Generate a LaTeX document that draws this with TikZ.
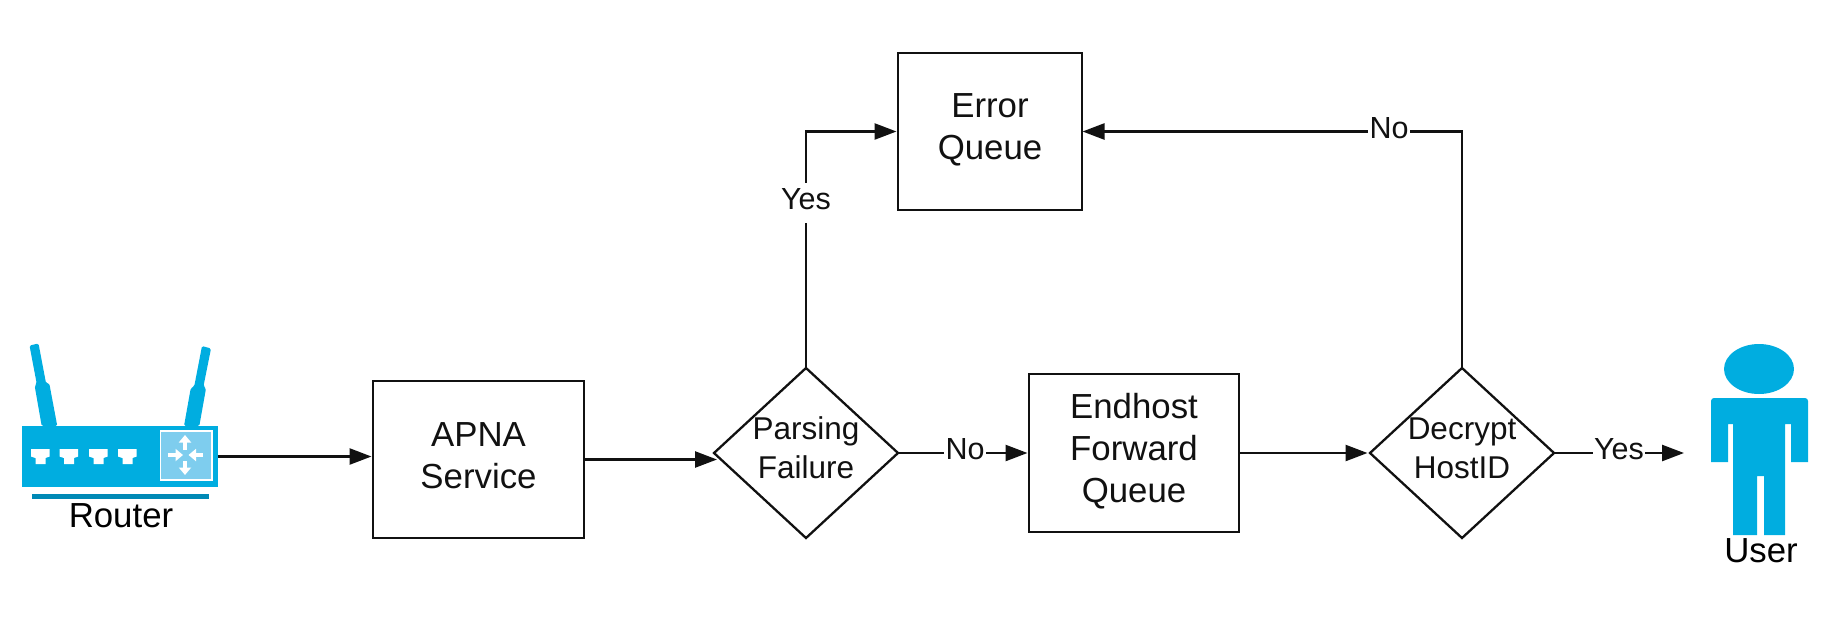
\documentclass[tikz,border=0pt]{standalone}
\usepackage{fontspec}
\setmainfont{Liberation Sans}
\usetikzlibrary{arrows.meta,shapes.geometric}
\definecolor{ink}{HTML}{111111}
\definecolor{iconblue}{HTML}{00ADE0}
\definecolor{iconpale}{HTML}{7ECDEE}
\definecolor{icondark}{HTML}{0089B5}
\newcommand{\tl}[2]{\raisebox{#1}[0pt][0pt]{\begin{tabular}[t]{@{}c@{}}#2\end{tabular}}}
\tikzset{
  wire/.style={draw=ink,line width=2.5pt},
  flow/.style={wire,-{Triangle[length=22pt,width=16pt]}},
  procbox/.style={draw=ink,line width=2.6pt,rectangle,inner sep=0pt,outer sep=0pt,font=\fontsize{34.8}{42}\selectfont,text=ink},
  decide/.style={draw=ink,line width=2.3pt,diamond,aspect=1,inner sep=0pt,outer sep=0pt,minimum width=184pt,minimum height=170pt,font=\fontsize{31.5}{39}\selectfont,text=ink},
  lbl/.style={fill=white,inner xsep=1.5pt,inner ysep=0pt,text=ink,font=\fontsize{30.5}{34}\selectfont,minimum height=40pt,text height=21pt,text depth=8pt},
  iconcap/.style={inner sep=0pt,text=black,font=\fontsize{34.8}{42}\selectfont,anchor=base},
  iconbody/.style={fill=iconblue,draw=none},
  screenarrow/.style={white,line width=3.6pt,-{Triangle[length=7.5pt,width=12pt]}}
}
\begin{document}
\begin{tikzpicture}[x=1pt,y=-1pt]
\useasboundingbox (0,0) rectangle (1830,643);
% router icon
\fill[iconbody,rounded corners=1.5pt] (29.5,345.5) -- (38.5,343.5) -- (46,383) -- (49.3,383.5) -- (57.3,426) -- (41.7,426) -- (34.7,386) -- (36.7,383.5) -- cycle;
\fill[iconbody,rounded corners=1.5pt] (202,346) -- (211,348.5) -- (203.5,386) -- (206,388.5) -- (199.3,426) -- (184,426) -- (190.7,388.5) -- (194.3,386) -- cycle;
\node[iconbody,rectangle,inner sep=0pt,outer sep=0pt,minimum width=196pt,minimum height=61pt] (router) at (120,456.5) {};
\draw[fill=iconpale,draw=white,line width=1.2pt] (160.5,431) rectangle (212,480);
\foreach \px in {31,59.5,89,118}{
  \fill[white,shift={(\px,449)}] (0,0) -- (18.7,0) -- (18.7,7.5) -- (14.5,9) -- (14.5,15) -- (4.5,15) -- (4.5,9) -- (0,7.5) -- cycle;
}
\draw[screenarrow] (185,450) -- (185,435);
\draw[screenarrow] (185,461) -- (185,475);
\draw[screenarrow] (168,455) -- (183,455);
\draw[screenarrow] (203,455) -- (188.5,455);
\fill[icondark] (32,494) rectangle (209,499);
\node[iconcap] (routerlabel) at (121,527) {Router};
% user icon
\node[iconbody,ellipse,inner sep=0pt,outer sep=0pt,minimum width=70pt,minimum height=50pt] (userhead) at (1759,369) {};
\fill[iconbody] (1711,462) [rounded corners=3pt] -- (1711,398) -- (1808,398) [sharp corners] -- (1808,462) -- (1791,462) -- (1791,424) -- (1785,424) -- (1785,535) -- (1764,535) -- (1764,476) -- (1757,476) -- (1757,535) -- (1733,535) -- (1733,424) -- (1728,424) -- (1728,462) -- cycle;
\node[iconcap] (userlabel) at (1761,562) {User};
% flow nodes
\node[procbox,minimum width=184pt,minimum height=157pt] (err) at (990,131.5) {\tl{14.5pt}{Error\\Queue}};
\node[procbox,minimum width=211pt,minimum height=157pt] (apna) at (478.5,459.5) {\tl{13.5pt}{APNA\\Service}};
\node[procbox,minimum width=210pt,minimum height=158pt] (endq) at (1134,453) {\tl{35pt}{Endhost\\Forward\\Queue}};
\node[decide] (parse) at (806,453) {\tl{14pt}{Parsing\\Failure}};
\node[decide] (decrypt) at (1462,453) {\tl{14pt}{Decrypt\\HostID}};
\coordinate (userin) at (1686,453);
% connectors
\draw[flow,shorten >=1.5pt] (router.east) -- (apna.west |- router.east);
\draw[flow,shorten >=-3pt] (apna.east) -- (parse.west |- apna.east);
\draw[flow,shorten >=1.5pt] (parse.east) -- (endq.west);
\draw[flow,shorten >=2.5pt] (endq.east) -- (decrypt.west);
\draw[flow,shorten >=1.5pt] (parse.north) |- (err.west);
\draw[flow,shorten >=0.5pt] (decrypt.north) |- (err.east);
\draw[flow,shorten >=2pt] (decrypt.east) -- (userin);
% connector labels
\node[lbl] (yesa) at (806,203) {Yes};
\node[lbl] (noa) at (965,453) {No};
\node[lbl] (nob) at (1389,132) {No};
\node[lbl] (yesb) at (1619,453) {Yes};
\end{tikzpicture}
\end{document}
